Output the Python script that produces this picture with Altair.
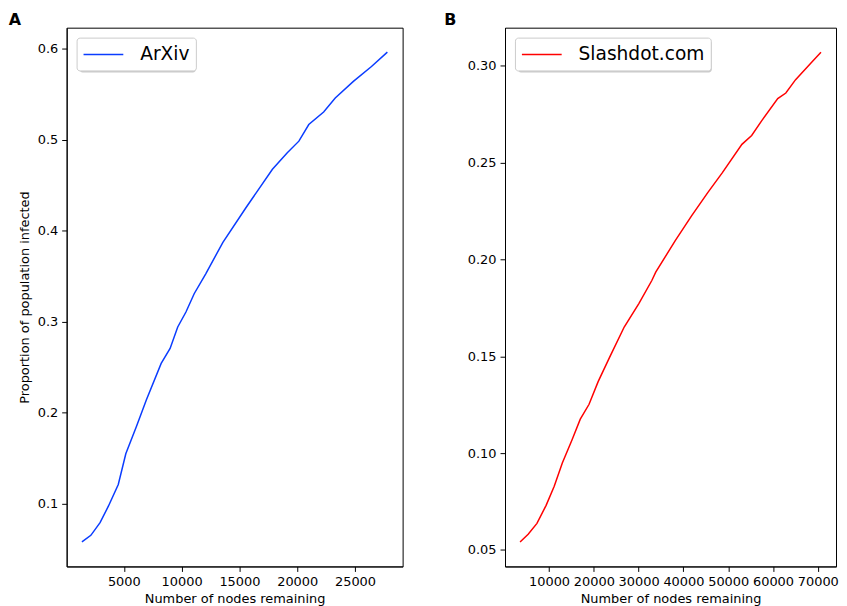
import altair as alt
import pandas as pd

# ---- data ----
arxiv_x = [1374, 2146, 2943, 3663, 4520, 5171, 6089, 6946, 8231, 9003, 9663, 10374,
           11086, 12088, 13571, 15577, 17857, 19142, 20145, 21002, 22288, 23291,
           24860, 26428, 27800]
arxiv_y = [0.0577, 0.065, 0.0789, 0.097, 0.1208, 0.1547, 0.1846, 0.2138, 0.2539,
           0.2704, 0.294, 0.3104, 0.3305, 0.3524, 0.387, 0.4253, 0.4673, 0.4855,
           0.4982, 0.5165, 0.5303, 0.5456, 0.5639, 0.5803, 0.596]

slash_x = [3528, 5337, 7298, 9346, 11155, 12963, 15142, 16973, 18934, 20961, 23510,
           26779, 30047, 32945, 33817, 38175, 41814, 45431, 48699, 53057, 55236,
           57415, 61054, 62863, 65042, 68680, 70707]
slash_y = [0.0541, 0.0581, 0.0637, 0.073, 0.0829, 0.0949, 0.1069, 0.1175, 0.1252,
           0.1369, 0.1494, 0.1651, 0.1772, 0.1891, 0.1934, 0.2097, 0.2225, 0.2345,
           0.2448, 0.2594, 0.264, 0.2714, 0.283, 0.2859, 0.2928, 0.3019, 0.307]

series_names = ["ArXiv", "Slashdot.com"]
series_colors = ["#0a3cff", "#ff0000"]
panel_labels = ["A", "B"]
x_title = "Number of nodes remaining"
y_title = "Proportion of population infected"

FONT = "DejaVu Sans"


def pad_domain(vals, frac=0.05):
    lo, hi = min(vals), max(vals)
    m = (hi - lo) * frac
    return [lo - m, hi + m]


def panel(xs, ys, name, color, label, label_dx, y_fmt, x_ticks, y_ticks,
          show_ytitle, width, legend_w):
    df = pd.DataFrame({"x": xs, "y": ys, "series": name})
    one = pd.DataFrame({"label": [label]})
    # legend drop shadow (matplotlib-style), drawn under the legend box
    shadow = alt.Chart(one).mark_rect(color="#b5b5b5", opacity=0.7,
                                      cornerRadius=3).encode(
        x=alt.value(13), x2=alt.value(13 + legend_w),
        y=alt.value(13), y2=alt.value(45))
    line = alt.Chart(df).mark_line(strokeWidth=1.5).encode(
        x=alt.X("x:Q", title=x_title,
                scale=alt.Scale(domain=pad_domain(xs), nice=False, zero=False),
                axis=alt.Axis(values=x_ticks, format="d")),
        y=alt.Y("y:Q", title=y_title if show_ytitle else None,
                scale=alt.Scale(domain=pad_domain(ys), nice=False, zero=False),
                axis=alt.Axis(values=y_ticks, format=y_fmt, titlePadding=6)),
        color=alt.Color("series:N",
                        scale=alt.Scale(domain=[name], range=[color]),
                        legend=alt.Legend(orient="top-left", offset=10, title=None,
                                          symbolType="M-1,0H3", symbolSize=400,
                                          symbolStrokeWidth=1.5,
                                          labelFontSize=18.7, labelFont=FONT,
                                          labelColor="black", labelOffset=36,
                                          strokeColor="#cccccc", fillColor="white",
                                          padding=6, cornerRadius=3)),
    )
    letter = alt.Chart(one).mark_text(
        fontSize=16, fontWeight="bold", font=FONT,
        align="center", baseline="middle", color="black").encode(
        x=alt.value(label_dx), y=alt.value(-8), text="label:N")
    return alt.layer(shadow, line, letter).properties(width=width, height=542)


left = panel(arxiv_x, arxiv_y, series_names[0], series_colors[0], panel_labels[0],
             -52, ".1f", [5000, 10000, 15000, 20000, 25000],
             [0.1, 0.2, 0.3, 0.4, 0.5, 0.6], True, 338, 117)
right = panel(slash_x, slash_y, series_names[1], series_colors[1], panel_labels[1],
              -55, ".2f", [10000, 20000, 30000, 40000, 50000, 60000, 70000],
              [0.05, 0.10, 0.15, 0.20, 0.25, 0.30], False, 333, 195)

chart = alt.hconcat(left, right, spacing=40).resolve_scale(
    color="independent").resolve_legend(color="independent").properties(
    padding={"left": 0, "top": 1, "right": 0, "bottom": 0},
    background="white"
).configure_view(stroke="black", strokeWidth=1).configure_axis(
    grid=False, domainColor="black", tickColor="black", tickSize=5,
    labelFont=FONT, labelFontSize=13, labelColor="black", labelPadding=4,
    titleFont=FONT, titleFontSize=13, titleFontWeight="normal", titleColor="black",
    titlePadding=4
)

chart.save("out.html", embed_options={"renderer": "svg", "actions": False})
